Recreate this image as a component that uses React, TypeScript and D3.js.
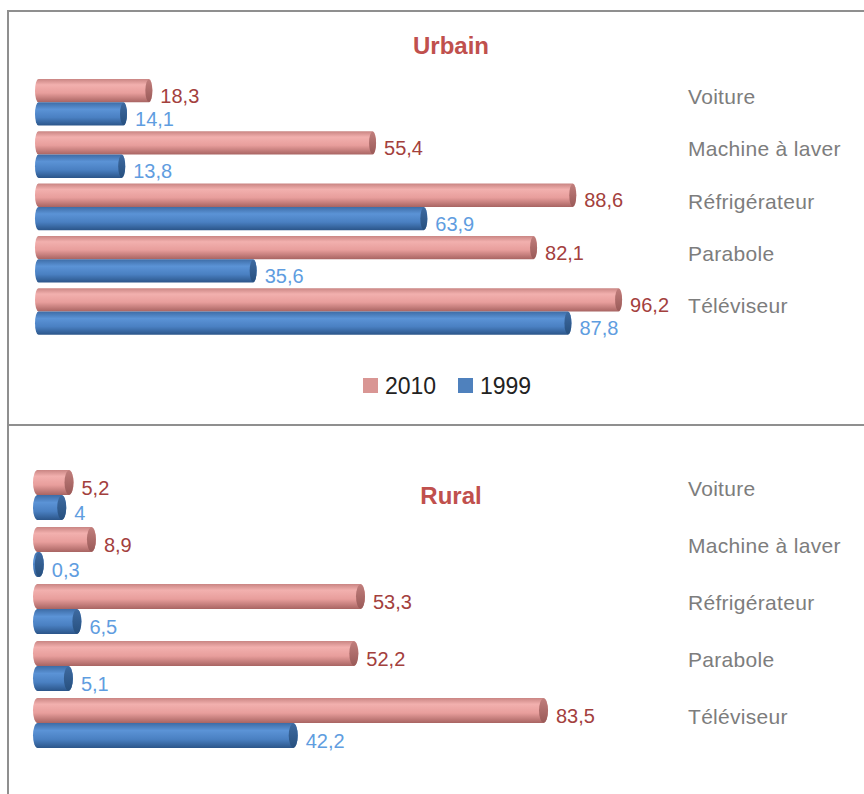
import React from "react";
import { scaleBand, scaleLinear } from "d3";

const categories = ["Voiture", "Machine à laver", "Réfrigérateur", "Parabole", "Téléviseur"];
const seriesKeys = ["2010", "1999"];
const urbain2010 = [18.3, 55.4, 88.6, 82.1, 96.2];
const urbain1999 = [14.1, 13.8, 63.9, 35.6, 87.8];
const rural2010 = [5.2, 8.9, 53.3, 52.2, 83.5];
const rural1999 = [4, 0.3, 6.5, 5.1, 42.2];

const FONT = "'Liberation Sans', Arial, sans-serif";
const frameColor = "#8f8f8f";
const valueColors: Record<string, string> = { "2010": "#a3403d", "1999": "#5f9de0" };
const legendColors: Record<string, string> = { "2010": "#d99694", "1999": "#4f81bd" };

const fmt = (v: number) => String(v).replace(".", ",");

function Gradients() {
  return (
    <defs>
      <linearGradient id="g2010" x1="0" y1="0" x2="0" y2="1">
        <stop offset="0" stopColor="#c98583" />
        <stop offset="0.25" stopColor="#f2b0ae" />
        <stop offset="0.6" stopColor="#e89e9c" />
        <stop offset="1" stopColor="#a86462" />
      </linearGradient>
      <linearGradient id="g1999" x1="0" y1="0" x2="0" y2="1">
        <stop offset="0" stopColor="#3d6ca6" />
        <stop offset="0.3" stopColor="#5b93d6" />
        <stop offset="0.65" stopColor="#4a80c2" />
        <stop offset="1" stopColor="#2b5589" />
      </linearGradient>
      <linearGradient id="c2010" x1="0" y1="0" x2="0" y2="1">
        <stop offset="0" stopColor="#c07e7c" />
        <stop offset="1" stopColor="#9a5a58" />
      </linearGradient>
      <linearGradient id="c1999" x1="0" y1="0" x2="0" y2="1">
        <stop offset="0" stopColor="#3e6aa0" />
        <stop offset="1" stopColor="#27507f" />
      </linearGradient>
    </defs>
  );
}

type PanelProps = {
  title: string;
  titleY: number;
  v2010: number[];
  v1999: number[];
  x0: number;
  xMax: number;
  yTop: number;
  step: number;
  barH: number;
  rx: number;
};

function Panel({ title, titleY, v2010, v1999, x0, xMax, yTop, step, barH, rx }: PanelProps) {
  const x = scaleLinear().domain([0, 100]).range([0, xMax]);
  const y = scaleBand<string>()
    .domain(categories)
    .range([yTop, yTop + step * categories.length])
    .paddingInner(0)
    .paddingOuter(0);
  const sub = scaleBand<string>().domain(seriesKeys).range([0, barH * 2]);
  const values: Record<string, number[]> = { "2010": v2010, "1999": v1999 };

  return (
    <g>
      <text x={451} y={titleY} textAnchor="middle" fontFamily={FONT} fontWeight="bold"
        fontSize={24} fill="#c0504d">{title}</text>
      {categories.map((c, i) => (
        <g key={c}>
          {seriesKeys.map((k) => {
            const top = (y(c) as number) + (sub(k) as number);
            const h = sub.bandwidth();
            const left = x0;
            const right = x0 + 2 * rx + x(values[k][i]);
            const ry = h / 2;
            const d = `M${left + rx},${top} H${right - rx} A${rx},${ry} 0 0 1 ${right - rx},${top + h} H${left + rx} A${rx},${ry} 0 0 1 ${left + rx},${top} Z`;
            return (
              <g key={k}>
                <path d={d} fill={`url(#g${k})`} />
                <ellipse cx={right - rx} cy={top + ry} rx={rx} ry={ry - 0.5} fill={`url(#c${k})`} />
                <text x={right + 8} y={top + ry + 5} dominantBaseline="central" fontFamily={FONT}
                  fontSize={20} fill={valueColors[k]}>{fmt(values[k][i])}</text>
              </g>
            );
          })}
          <text x={688} y={(y(c) as number) + barH / 2 + 6} dominantBaseline="central" fontFamily={FONT}
            fontSize={21} fill="#7d7d7d" letterSpacing={0.3}>{c}</text>
        </g>
      ))}
    </g>
  );
}

export default function App() {
  return (
    <svg width={864} height={794} style={{ position: "absolute", left: 0, top: 0, background: "#fff" }}>
      <Gradients />
      <rect x={0} y={0} width={864} height={794} fill="#fff" />
      <line x1={8} y1={11} x2={864} y2={11} stroke={frameColor} strokeWidth={2} />
      <line x1={8} y1={10} x2={8} y2={794} stroke={frameColor} strokeWidth={2} />
      <line x1={8} y1={425} x2={864} y2={425} stroke={frameColor} strokeWidth={2} />

      <Panel title="Urbain" titleY={54} v2010={urbain2010} v1999={urbain1999}
        x0={35} xMax={603} yTop={79} step={52.3} barH={23.3} rx={3.5} />

      {/* legend */}
      {seriesKeys.map((k, i) => (
        <g key={k} transform={`translate(${363 + i * 95},0)`}>
          <rect x={0} y={378} width={15} height={15} fill={legendColors[k]} />
          <text x={22} y={386} dominantBaseline="central" fontFamily={FONT} fontSize={23} fill="#222">{k}</text>
        </g>
      ))}

      <Panel title="Rural" titleY={504} v2010={rural2010} v1999={rural1999}
        x0={33} xMax={606} yTop={470} step={57} barH={25} rx={4.5} />
    </svg>
  );
}
